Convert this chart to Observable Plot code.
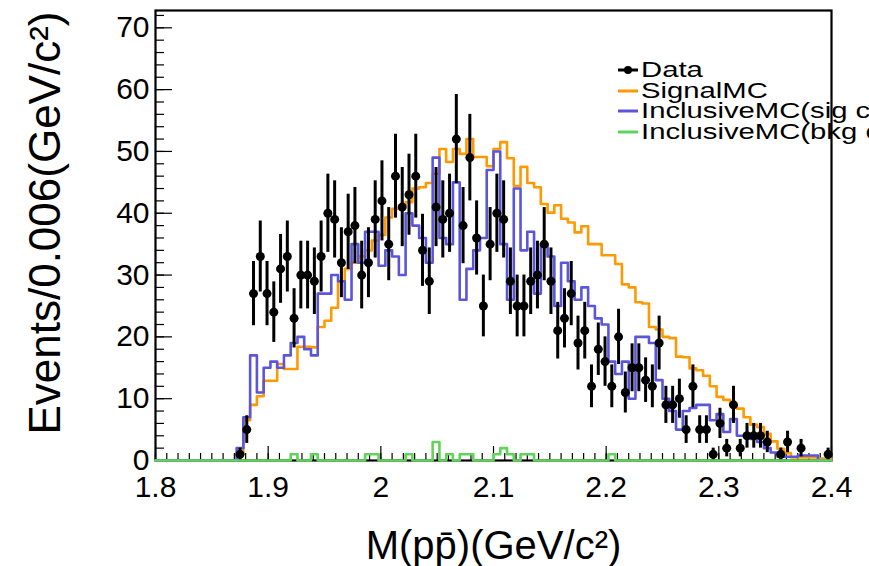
<!DOCTYPE html>
<html><head><meta charset="utf-8">
<script src="https://cdn.jsdelivr.net/npm/d3@7"></script>
<script src="https://cdn.jsdelivr.net/npm/@observablehq/plot@0.6"></script>
<style>
html,body{margin:0;padding:0;background:#fff;overflow:hidden;}
#wrap{position:relative;width:869px;height:566px;overflow:hidden;}
#chart{position:absolute;left:0;top:0;z-index:2;}
#legend{position:absolute;left:617px;top:60px;z-index:1;font-family:"Liberation Sans",Arial,sans-serif;font-size:22px;line-height:20.5px;white-space:nowrap;}
.row{display:flex;align-items:center;height:20.5px;}
.row svg{flex:none;}
.lab{display:inline-block;transform:scaleX(1.33);transform-origin:left center;margin-left:2px;}
</style></head><body>
<div id="wrap"><div id="legend"></div><div id="chart"></div></div>
<script>
// ---- binning ----
const xMin = 1.8, xMax = 2.4, binWidth = 0.006, nBins = 100;
// ---- data (events per bin) ----
const dataCounts = [0,0,0,0,0,0,0,0,0,0, 0,0,1,5,27,33,27,24,31,33, 23,30,30,29,33,40,39,32,37,38, 30,32,39,42,35,46,41,43,46,34, 29,41,39,40,52,38,49,36,25,35, 40,39,29,25,25,29,30,35,29,21, 23,27,19,21,12,18,16,12,20,11, 15,15,13,12,19,9,9,10,5,12, 5,5,1,6,2,9,2,4,4,4, 3,0,1,3,0,2,0,0,0,1];
const signalMC = [0,0,0,0,0,0,0,0,0,0, 0,0,1,6.5,9,10.4,12.9,12.9,15.6,14.8, 14.8,18.4,18.4,18.3,21.6,22.6,24.7,29,31,32, 33,34,35.6,36.5,39.3,40.7,41.3,41.8,44,44.2, 44.9,46.4,50.4,48.3,50.4,49.6,52,49.1,49.1,47.6, 50.4,51.5,48.9,44.4,47.5,44.9,44.2,41.5,40.1,41.3, 39.1,38.5,36.9,37.9,35,35,33.2,33.2,31.8,28.5, 28,25.6,25.4,21.6,21.2,20,19.8,16.8,16.7,14.9, 14.6,13.7,12,10.3,9.8,9,8.4,7,5.8,5.4, 4.3,3.1,1.9,1.2,0.5,0.5,0.5,0.5,0.3,0.3];
const inclusiveSig = [0,0,0,0,0,0,0,0,0,0, 0,0,2,7,17,11,15,16,15,17, 19,20,18,17,27,27,30,29,26,35, 32,37,37,31.5,34,33,30,40,38,36, 32,49,36,35,45,26,31,34,36,47, 50,35,26,44,34,37,27,35,33,25, 32,29,26,28,25,23,22,16,14,16, 10,20,20,19,13,10,8,5,8,8.5, 9,9,6.5,7.5,4.6,6.7,4,4,3.5,3, 2,1.3,0.6,0.6,0.6,0.8,0.8,0.8,0,0];
const inclusiveBkg = [0,0,0,0,0,0,0,0,0,0, 0,0,0,0,0,0,0,0,0,0, 1,0,0,1,0,0,0,0,0,0, 0,1,1,0,0,0,0,1,0,0, 0,3,0,1,0,1,1,0,0,0, 1,2,1,0,1,1,0,0,0,0, 0,0,0,0,0,0,0,1,0,0, 0,0,0,0,0,0,0,0,0,0, 0,0,0,0,0,0,0,0,0,0, 0,0,0,0,0,0,0,0,0,0];
// ---- axes ----
const xTicks = [1.8,1.9,2.0,2.1,2.2,2.3,2.4];
const xTickLabels = ["1.8","1.9","2","2.1","2.2","2.3","2.4"];
const yTicks = [0,10,20,30,40,50,60,70];
const yTickLabels = ["0","10","20","30","40","50","60","70"];
const yMax = 72.8;
const xTitle = "M(pp\u0304)(GeV/c\u00B2)";
const yTitle = "Events/0.006(GeV/c\u00B2)";
// ---- legend ----
const legendLabels = ["Data","SignalMC","InclusiveMC(sig channel)","InclusiveMC(bkg channel)"];
const colors = {data:"#000000", signal:"#ff9900", sig:"#5b55dc", bkg:"#5fd35a"};

const edges = d3.range(nBins + 1).map(i => xMin + i * binWidth);
const steps = vals => edges.map((e, i) => ({x: e, y: vals[Math.min(i, nBins - 1)]}));
const points = dataCounts.map((c, i) => ({x: xMin + (i + 0.5) * binWidth, y: c, lo: c - Math.sqrt(c), hi: c + Math.sqrt(c)})).filter(d => d.y > 0);

const xMinor = d3.range(0, 61).map(i => xMin + i * 0.01);
const yMinor = d3.range(0, 37).map(i => i * 2).filter(v => v <= yMax);

const font = "'Liberation Sans', Arial, Helvetica, sans-serif";
const chart = Plot.plot({
  width: 869, height: 566,
  marginLeft: 155, marginRight: 38, marginTop: 10, marginBottom: 106,
  style: {fontFamily: font, background: "transparent", color: "#000"},
  x: {domain: [xMin, xMax]},
  y: {domain: [0, yMax]},
  marks: [
    Plot.frame({stroke: "#000", strokeWidth: 2.2}),
    Plot.axisY({ticks: yMinor, tickSize: -9, tickFormat: () => "", strokeWidth: 1.2, label: null}),
    Plot.axisY({ticks: yTicks, tickSize: -17, tickFormat: () => "", strokeWidth: 1.2, label: null}),
    Plot.axisY({ticks: yTicks, tickSize: 0, tickPadding: 6, tickFormat: (d, i) => yTickLabels[i], fontSize: 30, label: null}),
    Plot.axisX({ticks: xMinor, tickSize: -7, tickFormat: () => "", strokeWidth: 1.2, label: null}),
    Plot.axisX({ticks: xTicks, tickSize: -14, tickFormat: () => "", strokeWidth: 1.2, label: null}),
    Plot.axisX({ticks: xTicks, tickSize: 0, tickPadding: 15, tickFormat: (d, i) => xTickLabels[i], fontSize: 30, label: null}),
    Plot.line(steps(signalMC), {x: "x", y: "y", curve: "step-after", stroke: colors.signal, strokeWidth: 2.6}),
    Plot.line(steps(inclusiveSig), {x: "x", y: "y", curve: "step-after", stroke: colors.sig, strokeWidth: 2.6}),
    Plot.ruleX(points, {x: "x", y1: "lo", y2: "hi", stroke: colors.data, strokeWidth: 3}),
    Plot.dot(points, {x: "x", y: "y", r: 4.5, fill: colors.data, stroke: "none"}),
    Plot.line(steps(inclusiveBkg), {x: "x", y: "y", curve: "step-after", stroke: colors.bkg, strokeWidth: 2.6}),
    Plot.text([xTitle], {frameAnchor: "bottom", dy: 86, fontSize: 40, lineAnchor: "middle"}),
    Plot.text([yTitle], {frameAnchor: "top-left", rotate: -90, textAnchor: "end", lineAnchor: "middle", dx: -110, dy: 1, fontSize: 44})
  ]
});
document.getElementById("chart").appendChild(chart);

// legend
const leg = d3.select("#legend");
const keys = ["data","signal","sig","bkg"];
legendLabels.forEach((lab, i) => {
  const row = leg.append("div").attr("class", "row");
  const s = row.append("svg").attr("width", 22).attr("height", 20);
  s.append("line").attr("x1", 1).attr("x2", 21).attr("y1", 10).attr("y2", 10).attr("stroke", colors[keys[i]]).attr("stroke-width", 3);
  if (i === 0) s.append("circle").attr("cx", 11).attr("cy", 10).attr("r", 4).attr("fill", "#000");
  row.append("span").attr("class", "lab").text(lab);
});
</script>
</body></html>
